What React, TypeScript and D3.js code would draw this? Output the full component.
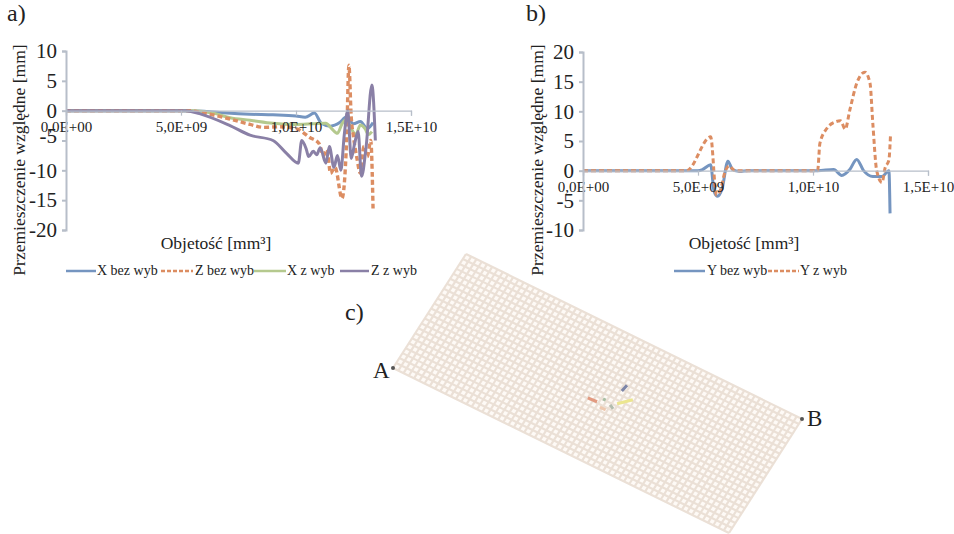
import { useEffect, useRef } from 'react';
import * as d3 from 'd3';

type Pt = [number, number];

// x values are in 1e9 mm3, y values in mm
const xTicks = [0, 5, 10, 15];
const xTickLabels = ['0,0E+00', '5,0E+09', '1,0E+10', '1,5E+10'];
const yTicksA = [10, 5, 0, -5, -10, -15, -20];
const yTicksB = [20, 15, 10, 5, 0, -5, -10];

const xBezWyb: Pt[] = [[0, 0], [5, 0], [6, -0.1], [7, -0.4], [8, -0.6], [9, -0.7], [10, -0.9], [10.4, -1.1], [10.8, -0.4], [11.1, -2.1], [11.5, -2.6], [11.9, -2], [12.2, -1], [12.5, -2.2], [12.8, -1.8], [13.1, -3], [13.35, -2]];
const zBezWyb: Pt[] = [[0, 0], [5.3, 0], [6, -0.4], [7.13, -1.4], [8, -2.3], [8.6, -2.8], [9.3, -2.7], [10, -3], [10.6, -4.5], [11, -5.5], [11.2, -7.5], [11.35, -6.5], [11.5, -10.5], [11.7, -9.5], [12, -14.7], [12.2, -5], [12.3, 7.6], [12.4, -1], [12.5, -4.4], [12.65, -8], [12.8, -10.5], [12.95, -6], [13.1, -7.7], [13.25, -5], [13.35, -16.4]];
const xZWyb: Pt[] = [[0, 0], [5.5, 0], [6.5, -0.5], [7.13, -1.2], [8, -1.6], [9, -2.1], [10, -2.3], [10.7, -2.2], [11.3, -2.1], [11.55, -3], [11.8, -3.8], [12, -2.2], [12.2, -1.5], [12.4, -3], [12.6, -4], [12.8, -2.4], [13, -3], [13.15, -4], [13.3, -3.5]];
const zZWyb: Pt[] = [[0, 0], [5.2, 0], [5.8, -0.5], [7.13, -2.5], [8, -4.1], [9, -5], [9.6, -7.2], [10.1, -8.8], [10.25, -5], [10.45, -6.5], [10.55, -7.7], [10.75, -6.8], [10.9, -7.4], [11.05, -6.2], [11.3, -8.8], [11.45, -6], [11.65, -9.5], [11.8, -7.5], [11.95, -10], [12.1, -4], [12.25, 0], [12.4, -8], [12.55, -5.5], [12.7, -3.5], [12.85, -11], [13.05, -6], [13.3, 4.3], [13.45, -5]];

const yBezWyb: Pt[] = [[0, 0], [5, 0], [5.2, 0.2], [5.55, 1], [5.7, -3.5], [5.85, -4.3], [6.05, -3], [6.3, 1.6], [6.5, 0.2], [6.8, -0.1], [7.2, 0], [10.2, 0], [10.9, 0.2], [11.25, -0.8], [11.6, 0.2], [11.9, 1.9], [12.2, 0], [12.6, -1], [13, -1], [13.3, 0], [13.35, -7.2]];
const yZWyb: Pt[] = [[0, 0], [4.5, 0], [5.55, 5.7], [5.8, -4.1], [6, -3], [6.15, -0.5], [6.35, 0.8], [6.6, 0], [10.2, 0], [10.3, 4.6], [10.6, 7.1], [10.96, 8.2], [11.2, 8.4], [11.4, 7], [11.6, 10.2], [11.9, 14.7], [12.26, 16.6], [12.48, 14.7], [12.6, 8], [12.77, 0], [13, -2], [13.13, 0.4], [13.3, 1.8], [13.37, 6]];

const gridCols = 64;
const gridRows = 23;

const BLUE = '#7495c0';
const ORANGE = '#dc8d62';
const GREEN = '#b5c98e';
const PURPLE = '#8a80a6';
const SERIF = '"Liberation Serif", serif';

interface ChartCfg {
  xAt0: number;
  yTop: number;
  yBottom: number;
  yDomain: [number, number];
  yTicks: number[];
  axisLabelX: number;
  titleX: number;
  minusFiveShift: number;
  series: { data: Pt[]; color: string; dash?: string; width: number }[];
  legend: { label: string; color: string; dash?: string; x0: number; x1: number; tx: number }[];
}

const chartA: ChartCfg = {
  xAt0: 66, yTop: 51, yBottom: 230, yDomain: [-20, 10], yTicks: yTicksA, axisLabelX: 21, titleX: 216, minusFiveShift: -5,
  series: [
    { data: xBezWyb, color: BLUE, width: 3 },
    { data: xZWyb, color: GREEN, width: 3 },
    { data: zBezWyb, color: ORANGE, dash: '5 3', width: 3.4 },
    { data: zZWyb, color: PURPLE, width: 3 },
  ],
  legend: [
    { label: 'X bez wyb', color: BLUE, x0: 66, x1: 96, tx: 97 },
    { label: 'Z bez wyb', color: ORANGE, dash: '4 2', x0: 161, x1: 193, tx: 195 },
    { label: 'X z wyb', color: GREEN, x0: 254, x1: 286, tx: 287 },
    { label: 'Z z wyb', color: PURPLE, x0: 340, x1: 369, tx: 371 },
  ],
};

const chartB: ChartCfg = {
  xAt0: 583, yTop: 52, yBottom: 230, yDomain: [-10, 20], yTicks: yTicksB, axisLabelX: 539, titleX: 744, minusFiveShift: 0,
  series: [
    { data: yBezWyb, color: BLUE, width: 3 },
    { data: yZWyb, color: ORANGE, dash: '5 3', width: 3 },
  ],
  legend: [
    { label: 'Y bez wyb', color: BLUE, x0: 674, x1: 705, tx: 707 },
    { label: 'Y z wyb', color: ORANGE, dash: '4 2', x0: 768, x1: 799, tx: 800 },
  ],
};

function drawChart(svg: d3.Selection<SVGSVGElement, unknown, null, undefined>, c: ChartCfg) {
  const x = d3.scaleLinear().domain([0, 15]).range([c.xAt0, c.xAt0 + 345]);
  const y = d3.scaleLinear().domain(c.yDomain).range([c.yBottom, c.yTop]);
  const line = d3.line<Pt>().x(d => x(d[0])).y(d => y(d[1])).curve(d3.curveMonotoneX);

  svg.append('g').attr('filter', 'url(#soft)')
    .selectAll('path')
    .data(c.series)
    .enter().append('path')
    .attr('fill', 'none')
    .attr('stroke', d => d.color)
    .attr('stroke-width', d => d.width)
    .attr('stroke-dasharray', d => d.dash ?? null)
    .attr('stroke-linejoin', 'round')
    .attr('d', d => line(d.data));

  const xAxis = svg.append('g')
    .attr('transform', `translate(0,${y(0)})`)
    .call(d3.axisBottom(x).tickValues(xTicks).tickSize(5).tickPadding(6).tickFormat((_, i) => xTickLabels[i]));
  const yAxis = svg.append('g')
    .attr('transform', `translate(${c.xAt0},0)`)
    .call(d3.axisLeft(y).tickValues(c.yTicks).tickSize(4).tickPadding(5).tickFormat(d => String(d)));

  xAxis.selectAll('.domain, line').attr('stroke', '#b7bec9').attr('stroke-width', 1.2);
  yAxis.selectAll('.domain, line').attr('stroke', '#b7bec9').attr('stroke-width', 2);
  xAxis.selectAll('text').attr('font-family', SERIF).attr('font-size', 15).attr('fill', '#222');
  yAxis.selectAll('text').attr('font-family', SERIF).attr('font-size', 21).attr('fill', '#222')
    .attr('dy', (d: any) => (d === -5 ? 0.32 * 21 + c.minusFiveShift : 0.32 * 21));

  svg.append('text')
    .attr('transform', `translate(${c.axisLabelX},160) rotate(-90)`)
    .attr('text-anchor', 'middle')
    .attr('dominant-baseline', 'middle')
    .attr('font-family', SERIF).attr('font-size', 17.5).attr('fill', '#222')
    .text('Przemieszczenie względne [mm]');

  svg.append('text')
    .attr('x', c.titleX).attr('y', 249)
    .attr('text-anchor', 'middle')
    .attr('font-family', SERIF).attr('font-size', 17.5).attr('fill', '#222')
    .text('Objetość [mm³]');

  const legend = svg.append('g');
  legend.selectAll('line')
    .data(c.legend)
    .enter().append('line')
    .attr('x1', d => d.x0).attr('x2', d => d.x1)
    .attr('y1', 271).attr('y2', 271)
    .attr('stroke', d => d.color)
    .attr('stroke-width', 2.5)
    .attr('stroke-dasharray', d => d.dash ?? null)
    .attr('filter', 'url(#soft)');
  legend.selectAll('text')
    .data(c.legend)
    .enter().append('text')
    .attr('x', d => d.tx).attr('y', 275)
    .attr('font-family', SERIF).attr('font-size', 14).attr('fill', '#222')
    .text(d => d.label);
}

function drawMesh(svg: d3.Selection<SVGSVGElement, unknown, null, undefined>) {
  // long edge runs top corner -> B, short edge top corner -> A
  const top: Pt = [466, 254];
  const a: Pt = [393, 368];
  const b: Pt = [802, 419];
  const u = d3.scaleLinear().domain([0, gridCols]).range([0, 1]);
  const v = d3.scaleLinear().domain([0, gridRows]).range([0, 1]);
  const pos = (i: number, j: number): Pt => [
    top[0] + (b[0] - top[0]) * u(i) + (a[0] - top[0]) * v(j),
    top[1] + (b[1] - top[1]) * u(i) + (a[1] - top[1]) * v(j),
  ];

  const g = svg.append('g').attr('filter', 'url(#softer)');
  g.append('path')
    .attr('d', d3.line()([pos(0, 0), pos(gridCols, 0), pos(gridCols, gridRows), pos(0, gridRows)]) + 'Z')
    .attr('fill', '#fefaf6');
  const lines = [
    ...d3.range(gridCols + 1).map(i => [pos(i, 0), pos(i, gridRows)]),
    ...d3.range(gridRows + 1).map(j => [pos(0, j), pos(gridCols, j)]),
  ] as Pt[][];
  g.selectAll('.mesh')
    .data(lines)
    .enter().append('path')
    .attr('class', 'mesh')
    .attr('d', d => d3.line()(d))
    .attr('stroke', '#ebe0d6')
    .attr('stroke-width', 2.2)
    .attr('fill', 'none');

  // small deformed elements in the middle of the plate
  const marks = [
    { color: '#e29a80', from: [31, 12.9], to: [32.7, 12.8] },
    { color: '#a9bfa5', from: [33.3, 11.9], to: [33.8, 11.9] },
    { color: '#eec9b0', from: [33.6, 13.4], to: [34.7, 13.4] },
    { color: '#b3bcae', from: [34.9, 12.3], to: [35.7, 12.7] },
    { color: '#ece68f', from: [35.8, 11.6], to: [37.7, 9.8] },
    { color: '#7d86a8', from: [35.3, 9.3], to: [35.5, 8] },
  ];
  g.selectAll('.mark')
    .data(marks)
    .enter().append('path')
    .attr('class', 'mark')
    .attr('d', d => d3.line()([pos(d.from[0], d.from[1]), pos(d.to[0], d.to[1])]))
    .attr('stroke', d => d.color)
    .attr('stroke-width', 3);

  svg.selectAll('.corner')
    .data([a, b])
    .enter().append('circle')
    .attr('class', 'corner')
    .attr('cx', d => d[0]).attr('cy', d => d[1])
    .attr('r', 2).attr('fill', '#555')
    .attr('filter', 'url(#soft)');
}

const App = () => {
  const svgRef = useRef<SVGSVGElement>(null);

  useEffect(() => {
    const svg = d3.select(svgRef.current!);
    svg.selectAll('*').remove();

    const defs = svg.append('defs');
    const blurs = [{ id: 'soft', sd: 0.5 }, { id: 'softer', sd: 0.75 }];
    blurs.forEach(b => {
      defs.append('filter').attr('id', b.id)
        .attr('filterUnits', 'userSpaceOnUse')
        .attr('x', 0).attr('y', 0).attr('width', 954).attr('height', 534)
        .append('feGaussianBlur').attr('stdDeviation', b.sd);
    });

    drawMesh(svg);
    drawChart(svg, chartA);
    drawChart(svg, chartB);

    const labels = [
      { t: 'a)', x: 7, y: 21, s: 24 },
      { t: 'b)', x: 526, y: 21, s: 24 },
      { t: 'c)', x: 345, y: 320, s: 24 },
      { t: 'A', x: 373, y: 378, s: 23 },
      { t: 'B', x: 807, y: 426, s: 23 },
    ];
    svg.selectAll('.panel')
      .data(labels)
      .enter().append('text')
      .attr('class', 'panel')
      .attr('x', d => d.x).attr('y', d => d.y)
      .attr('font-family', SERIF).attr('font-size', d => d.s).attr('fill', '#222')
      .text(d => d.t);
  }, []);

  return (
    <svg
      ref={svgRef}
      width={954}
      height={534}
      style={{ position: 'absolute', left: 0, top: 0, background: '#fff' }}
    />
  );
};

export default App;
